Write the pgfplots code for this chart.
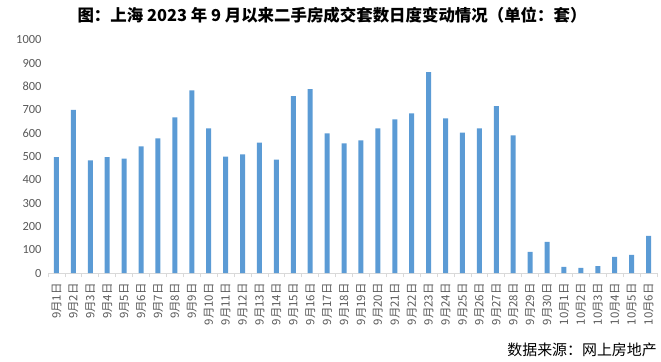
\documentclass[border=0pt]{standalone}
\usepackage{fontspec}
\setmainfont{Carlito}
\newfontfamily\cjk{Noto Sans CJK SC}
\usepackage{pgfplots}
\pgfplotsset{compat=1.18}
\definecolor{barblue}{HTML}{5B9BD5}
\definecolor{labgray}{HTML}{595959}
\definecolor{axgray}{HTML}{D9D9D9}
\begin{document}
\begin{tikzpicture}[x=1bp,y=1bp]
\useasboundingbox (0,0) rectangle (661,361);
\begin{axis}[
  at={(48bp,88bp)}, anchor=south west,
  scale only axis, width=609bp, height=233bp,
  xmin=-0.5, xmax=35.5, ymin=0, ymax=1000,
  ybar, bar width=5bp,
  axis x line*=bottom, axis y line*=left,
  x axis line style={draw=axgray, line width=0.8bp, -},
  y axis line style={draw=none},
  ytick={0,100,...,1000},
  ytick style={draw=none},
  /pgf/number format/assume math mode=true,
  /pgf/number format/1000 sep={},
  yticklabel style={color=labgray, font=\fontsize{12.5}{12.5}\selectfont, xshift=-3bp},
  xtick={0,...,35},
  major x tick style={draw=none},
  major tick length=0pt,
  minor xtick={-0.5,0.5,...,35.5},
  minor x tick style={draw=axgray, line width=0.8bp},
  minor tick length=4bp,
  tick align=outside,
  xticklabels={9月1日,9月2日,9月3日,9月4日,9月5日,9月6日,9月7日,9月8日,9月9日,9月10日,9月11日,9月12日,9月13日,9月14日,9月15日,9月16日,9月17日,9月18日,9月19日,9月20日,9月21日,9月22日,9月23日,9月24日,9月25日,9月26日,9月27日,9月28日,9月29日,9月30日,10月1日,10月2日,10月3日,10月4日,10月5日,10月6日},
  xticklabel style={rotate=90, anchor=east, color=labgray, font=\cjk\fontsize{11.5}{11.5}\selectfont, inner sep=0pt, xshift=-10bp},
]
\addplot[fill=barblue, draw=none] coordinates {
(0,497) (1,700) (2,483) (3,497) (4,491) (5,543) (6,578) (7,668) (8,784) (9,621)
(10,500) (11,509) (12,560) (13,487) (14,759) (15,789) (16,599) (17,556) (18,569) (19,621)
(20,659) (21,685) (22,862) (23,664) (24,603) (25,621) (26,716) (27,591) (28,91) (29,134)
(30,26) (31,22) (32,30) (33,69) (34,78) (35,159)
};
\end{axis}
\node[anchor=center, font=\cjk\bfseries\fontsize{16.5}{16.5}\selectfont] at (332,346) {图：上海 2023 年 9 月以来二手房成交套数日度变动情况（单位：套）};
\node[anchor=east, inner sep=0pt, font=\cjk\fontsize{15}{15}\selectfont] at (657,11) {数据来源：网上房地产};
\end{tikzpicture}
\end{document}
